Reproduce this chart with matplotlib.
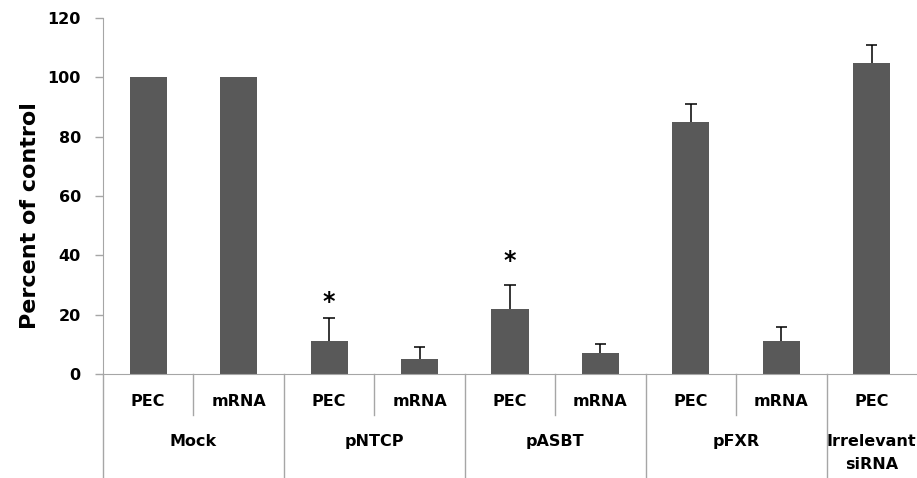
import matplotlib
matplotlib.use("Agg")
import matplotlib.pyplot as plt
from matplotlib.transforms import blended_transform_factory

# ---- data ----
sub_labels = ["PEC", "mRNA", "PEC", "mRNA", "PEC", "mRNA", "PEC", "mRNA", "PEC"]
groups = ["Mock", "pNTCP", "pASBT", "pFXR", "Irrelevant\nsiRNA"]
group_sizes = [2, 2, 2, 2, 1]
values = [100, 100, 11, 5, 22, 7, 85, 11, 105]
errors = [0, 0, 8, 4, 8, 3, 6, 5, 6]
star_bars = [2, 4]
star_levels = [25.3, 39.0]
y_ticks = [0, 20, 40, 60, 80, 100, 120]

plt.rcParams['font.family'] = ['DejaVu Sans']
W, H = 917, 478
fig = plt.figure(figsize=(W / 100, H / 100), dpi=100)
left = 103 / W
bottom = 1 - 374 / H
top = 1 - 18 / H
ax = fig.add_axes([left, bottom, 1.0 - left, top - bottom])

grey = "#a6a6a6"
x = list(range(len(values)))
ax.bar(x, values, width=0.41, color="#595959", zorder=2)
cap_half = 0.063
for xi, v, e in zip(x, values, errors):
    if e > 0:
        ax.vlines(xi, v, v + e, color="black", lw=1.1, zorder=3)
        ax.hlines(v + e, xi - cap_half, xi + cap_half, color="black", lw=1.1, zorder=3)

for b, lvl in zip(star_bars, star_levels):
    ax.text(b, lvl - 1.0, "*", ha="center", va="center", fontsize=17,
            fontweight="bold", color="black")

ax.set_xlim(-0.5, 8.5)
ax.set_ylim(0, 120)
ax.set_yticks(y_ticks)
ax.set_yticklabels([str(t) for t in y_ticks], fontsize=11.5, fontweight="bold")
ax.set_xticks([])
ax.tick_params(axis="y", length=6, color=grey, width=1, pad=10)
for s in ["top", "right"]:
    ax.spines[s].set_visible(False)
ax.spines["left"].set_color(grey)
ax.spines["bottom"].set_color(grey)
ax.set_ylabel("Percent of control", fontsize=16, fontweight="bold")
ax.yaxis.set_label_coords(-0.078, 0.445)

trans = blended_transform_factory(ax.transData, ax.transAxes)
ax_h = 374 - 18
inner_low = -41 / ax_h
outer_low = -(H - 374) / ax_h
sub_y = -28 / ax_h
grp_y = -67.5 / ax_h
line_step = -23 / ax_h

# left axis extension
ax.plot([-0.5, -0.5], [0, outer_low], transform=trans, color=grey, lw=1, clip_on=False)

for xi, lab in zip(x, sub_labels):
    ax.text(xi, sub_y, lab, transform=trans, ha="center", va="center",
            fontsize=11.5, fontweight="bold")

start = 0
for g, n in zip(groups, group_sizes):
    end = start + n
    center = (start + end - 1) / 2
    for k in range(start + 1, end):
        ax.plot([k - 0.5, k - 0.5], [0, inner_low], transform=trans, color=grey,
                lw=1, clip_on=False)
    if end < len(values):
        ax.plot([end - 0.5, end - 0.5], [0, outer_low], transform=trans, color=grey,
                lw=1, clip_on=False)
    for i, line in enumerate(g.split("\n")):
        ax.text(center, grp_y + i * line_step, line, transform=trans, ha="center",
                va="center", fontsize=11.5, fontweight="bold")
    start = end

fig.savefig("out.png", dpi=100)
